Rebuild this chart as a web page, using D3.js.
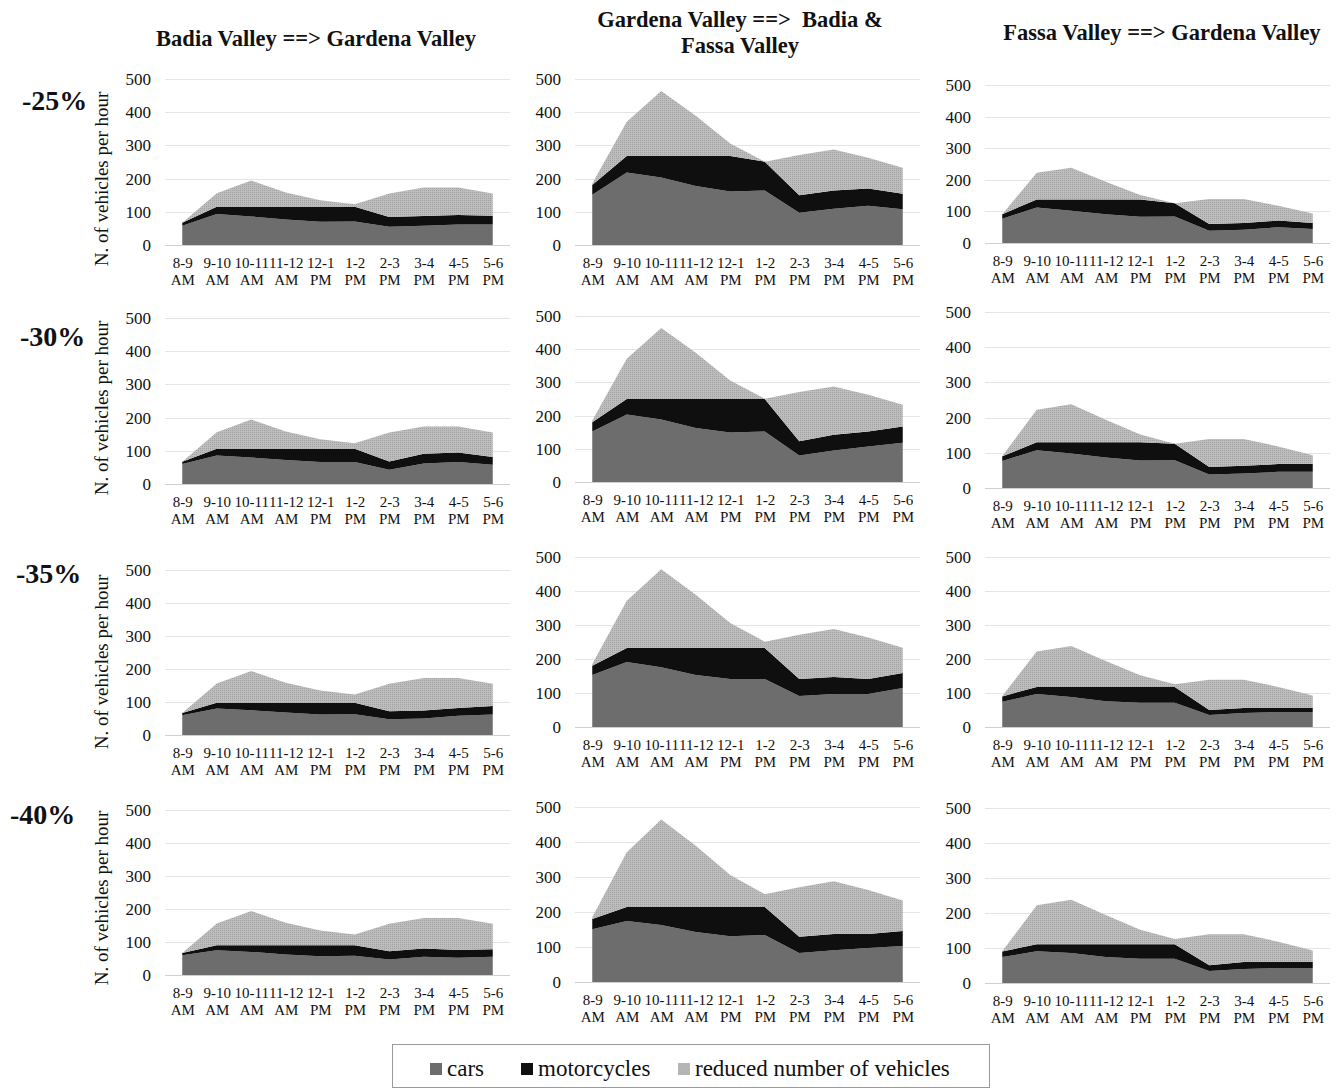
<!DOCTYPE html>
<html>
<head>
<meta charset="utf-8">
<script src="https://cdn.jsdelivr.net/npm/d3@7"></script>
<style>
  body { margin: 0; background: #fff; }
  svg text { font-family: "Liberation Serif", "Times New Roman", serif; fill: #111; }
</style>
</head>
<body>
<div id="host"><svg><defs></defs></svg></div>
<script>
const WIDTH = 1338;
const HEIGHT = 1089;

const HOURS = [
  ["8-9", "AM"], ["9-10", "AM"], ["10-11", "AM"], ["11-12", "AM"], ["12-1", "PM"],
  ["1-2", "PM"], ["2-3", "PM"], ["3-4", "PM"], ["4-5", "PM"], ["5-6", "PM"]
];
const VALLEYS = ["Badia Valley ==> Gardena Valley", "Gardena Valley ==>  Badia &|Fassa Valley", "Fassa Valley ==> Gardena Valley"];
const REDUCTIONS = ["-25%", "-30%", "-35%", "-40%"];
const Y_TICKS = [0, 100, 200, 300, 400, 500];
const SERIES = ["cars", "motorcycles", "reduced number of vehicles"];

// original traffic per hour (top of the stack)
const TOTAL_BADIA = [67, 156, 194, 158, 135, 123, 155, 173, 173, 155];
const TOTAL_GARDENA = [185, 371, 464, 389, 306, 251, 271, 288, 263, 233];
const TOTAL_FASSA = [91, 222, 238, 194, 152, 126, 139, 139, 118, 93];

// cars per hour, one row per reduction
const CARS_BADIA = [
  [58, 93, 86, 77, 70, 71, 55, 58, 62, 62],
  [60, 86, 80, 72, 66, 66, 43, 62, 66, 58],
  [60, 80, 75, 68, 62, 63, 48, 50, 58, 62],
  [60, 75, 70, 62, 57, 58, 47, 55, 52, 55]
];
const CARS_GARDENA = [
  [151, 218, 203, 178, 161, 164, 97, 109, 118, 108],
  [152, 203, 188, 163, 149, 152, 80, 95, 107, 118],
  [153, 191, 176, 153, 141, 141, 91, 97, 97, 115],
  [151, 174, 163, 143, 131, 134, 83, 91, 97, 103]
];
const CARS_FASSA = [
  [77, 112, 102, 91, 83, 84, 39, 42, 50, 44],
  [77, 107, 98, 87, 78, 79, 38, 41, 46, 46],
  [74, 97, 88, 76, 71, 71, 35, 41, 44, 44],
  [74, 91, 86, 74, 69, 69, 34, 40, 43, 43]
];

// motorcycles per hour, one row per reduction
const MOTO_BADIA = [
  [9, 22, 29, 38, 45, 44, 29, 29, 28, 26],
  [7, 20, 26, 34, 40, 40, 25, 29, 29, 23],
  [7, 18, 23, 30, 36, 35, 24, 24, 24, 26],
  [7, 15, 20, 28, 33, 32, 25, 25, 24, 23]
];
const MOTO_GARDENA = [
  [30, 50, 65, 90, 107, 87, 53, 55, 52, 46],
  [28, 47, 62, 87, 101, 98, 43, 47, 45, 49],
  [27, 41, 56, 79, 91, 91, 50, 50, 44, 44],
  [29, 40, 51, 71, 83, 80, 46, 46, 40, 43]
];
const MOTO_FASSA = [
  [14, 26, 36, 47, 55, 42, 21, 21, 21, 19],
  [13, 23, 32, 43, 52, 47, 22, 22, 22, 22],
  [16, 21, 30, 42, 47, 47, 15, 15, 12, 12],
  [16, 20, 25, 37, 42, 42, 17, 20, 17, 17]
];

const TOTALS = [TOTAL_BADIA, TOTAL_GARDENA, TOTAL_FASSA];
const CARS = [CARS_BADIA, CARS_GARDENA, CARS_FASSA];
const MOTOS = [MOTO_BADIA, MOTO_GARDENA, MOTO_FASSA];

const COLORS = ["#6d6d6d", "#0f0f0f", "url(#dots)"];

// panel frames: [zero line y, height of 0..500]
const FRAMES = [
  [[245, 166], [245, 166], [243, 158]],
  [[484, 166], [482, 166], [488, 176]],
  [[735, 165], [727, 170], [727, 170]],
  [[975, 165], [982, 175], [983, 175]]
];
const COL_X = [165, 575, 985];
const COL_W = 345;
const TITLE_Y = [179, 408, 662, 898];

function setupSvg() {
  const svg = d3.select("#host svg").attr("width", WIDTH).attr("height", HEIGHT);
  const defs = svg.select("defs");
  const pat = defs.append("pattern")
    .attr("id", "dots")
    .attr("width", 2)
    .attr("height", 2)
    .attr("patternUnits", "userSpaceOnUse");
  pat.append("rect").attr("width", 2).attr("height", 2).attr("fill", "#bdbdbd");
  pat.append("rect").attr("x", 0).attr("y", 0).attr("width", 1).attr("height", 1).attr("fill", "#a2a2a2");
  return svg;
}

function drawPanel(svg, row, col) {
  const [y0, h] = FRAMES[row][col];
  const x0 = COL_X[col];
  const g = svg.append("g");

  const x = d3.scalePoint()
    .domain(HOURS.map((d) => d[0]))
    .range([x0, x0 + COL_W])
    .padding(0.5);
  const y = d3.scaleLinear().domain([0, 500]).range([y0, y0 - h]);

  const data = HOURS.map((hr, i) => {
    const cars = CARS[col][row][i];
    const moto = MOTOS[col][row][i];
    return {
      hour: hr[0],
      cars: cars,
      motorcycles: moto,
      "reduced number of vehicles": Math.max(0, TOTALS[col][i] - cars - moto),
    };
  });

  // gridlines
  g.append("g")
    .selectAll("line")
    .data(Y_TICKS)
    .join("line")
    .attr("x1", x0)
    .attr("x2", x0 + COL_W)
    .attr("y1", (d) => Math.round(y(d)) + 0.5)
    .attr("y2", (d) => Math.round(y(d)) + 0.5)
    .attr("stroke", (d) => (d === 0 ? "#d0d0d0" : "#e4e4e4"))
    .attr("stroke-width", 1);

  const stack = d3.stack().keys(SERIES);
  const area = d3.area()
    .x((d) => x(d.data.hour))
    .y0((d) => y(d[0]))
    .y1((d) => y(d[1]));

  g.append("g")
    .selectAll("path")
    .data(stack(data))
    .join("path")
    .attr("d", area)
    .attr("fill", (d, i) => COLORS[i]);

  // y axis
  const yAxis = d3.axisLeft(y).tickValues(Y_TICKS).tickSize(0).tickPadding(14);
  const ya = g.append("g").attr("transform", `translate(${x0},0)`).call(yAxis);
  ya.select(".domain").remove();
  ya.selectAll("text")
    .attr("font-family", '"Liberation Serif", serif')
    .attr("font-size", 17)
    .attr("fill", "#111");

  // x axis with two-line labels
  const xAxis = d3.axisBottom(x).tickSize(0).tickPadding(0).tickFormat("");
  const xa = g.append("g").attr("transform", `translate(0,${y0})`).call(xAxis);
  xa.select(".domain").remove();
  xa.selectAll(".tick").each(function (d, i) {
    const t = d3.select(this).append("text")
      .attr("text-anchor", "middle")
      .attr("font-family", '"Liberation Serif", serif')
      .attr("font-size", 15)
      .attr("fill", "#111");
    t.append("tspan").attr("x", 0).attr("y", 23).text(HOURS[i][0]);
    t.append("tspan").attr("x", 0).attr("y", 40).text(HOURS[i][1]);
  });

  if (col === 0) {
    g.append("text")
      .attr("transform", `translate(${x0 - 57},${TITLE_Y[row]}) rotate(-90)`)
      .attr("text-anchor", "middle")
      .attr("font-size", 19)
      .text("N. of vehicles per hour");
  }
}

function drawLabels(svg) {
  const headX = [316, 740, 1162];
  const headY = [46, 27, 40];
  VALLEYS.forEach((v, i) => {
    const lines = v.split("|");
    const t = svg.append("text")
      .attr("text-anchor", "middle")
      .attr("font-weight", "bold")
      .attr("font-size", 22.5);
    lines.forEach((l, j) => {
      t.append("tspan")
        .attr("x", headX[i])
        .attr("y", headY[i] + j * 26)
        .attr("xml:space", "preserve")
        .text(l);
    });
  });

  const rowY = [110, 346, 583, 824];
  const rowX = [22, 20, 16, 10];
  REDUCTIONS.forEach((r, i) => {
    svg.append("text")
      .attr("x", rowX[i])
      .attr("y", rowY[i])
      .attr("font-weight", "bold")
      .attr("font-size", 28)
      .text(r);
  });
}

function drawLegend(svg) {
  svg.append("rect")
    .attr("x", 392.5)
    .attr("y", 1044.5)
    .attr("width", 597)
    .attr("height", 43)
    .attr("fill", "#fff")
    .attr("stroke", "#9a9a9a");
  const itemX = [430, 521, 678];
  const fills = ["#6d6d6d", "#0f0f0f", "#b5b5b5"];
  SERIES.forEach((s, i) => {
    svg.append("rect")
      .attr("x", itemX[i])
      .attr("y", 1063)
      .attr("width", 12)
      .attr("height", 12)
      .attr("fill", fills[i]);
    svg.append("text")
      .attr("x", itemX[i] + 17)
      .attr("y", 1076)
      .attr("font-size", 23)
      .text(s);
  });
}

function initialize() {
  const svg = setupSvg();
  for (let r = 0; r < REDUCTIONS.length; r++) {
    for (let c = 0; c < 3; c++) {
      drawPanel(svg, r, c);
    }
  }
  drawLabels(svg);
  drawLegend(svg);
}

initialize();
</script>
</body>
</html>
